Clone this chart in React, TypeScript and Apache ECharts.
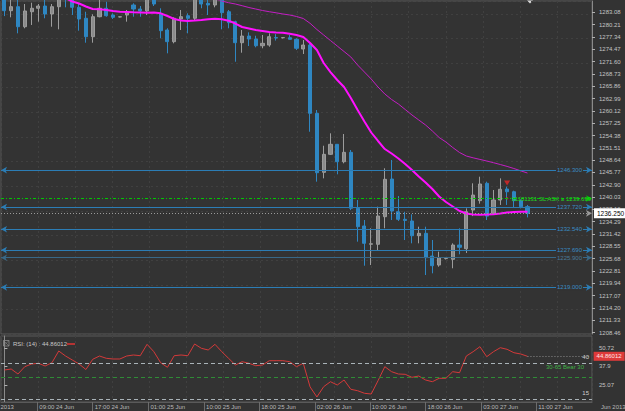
import React, { useEffect, useRef } from 'react';
import * as echarts from 'echarts';

const BG = '#333333';
const FONT = '"Liberation Sans", Arial, sans-serif';

// ---- data ----
const barSlots = 87;
const opens = [1286.5, 1283.46, 1284.39, 1279.73, 1283.22, 1284.02, 1284.55, 1282.69, 1284.39, 1287.5,
  1286.6, 1284.25, 1281.69, 1277.4, 1282.06, 1284.02, 1282.46, 1281.99, 1282.46, 1284.79,
  1283.85, 1283.39, 1287.0, 1282.85, 1278.96, 1276.24, 1281.52, 1282.29, 1281.69, 1287.0,
  1285.18, 1284.79, 1286.5, 1283.22, 1280.9, 1276.0, 1277.56, 1276.86, 1275.3, 1275.46,
  1277.2, 1277.15, 1277.17, 1276.8, 1274.53, 1275.46, 1259.55, 1245.8, 1250.0, 1252.33,
  1248.27, 1250.46, 1237.42, 1233.3, 1229.05, 1229.03, 1235.46, 1244.24, 1236.62, 1234.85,
  1234.46, 1231.03, 1231.59, 1226.3, 1224.2, 1225.7, 1225.53, 1228.86, 1228.0, 1237.02,
  1239.2, 1243.24, 1236.25, 1239.35, 1241.91, 1241.28, 1239.2, 1237.79];
const closes = [1283.46, 1284.39, 1279.73, 1283.39, 1284.02, 1284.55, 1282.69, 1284.39, 1287.5, 1286.6,
  1284.25, 1281.52, 1277.4, 1282.06, 1284.02, 1282.29, 1281.92, 1282.05, 1282.99, 1283.85,
  1283.39, 1286.3, 1285.02, 1278.8, 1276.24, 1281.69, 1282.06, 1281.69, 1286.5, 1285.02,
  1284.79, 1286.2, 1282.99, 1280.66, 1276.0, 1277.56, 1276.86, 1275.3, 1275.86, 1277.4,
  1277.1, 1277.2, 1276.8, 1274.7, 1275.46, 1259.55, 1245.71, 1249.99, 1252.33, 1248.27,
  1250.46, 1237.42, 1233.13, 1229.26, 1229.15, 1235.62, 1244.17, 1236.79, 1234.85, 1234.6,
  1231.03, 1231.59, 1225.91, 1224.04, 1225.91, 1225.75, 1228.86, 1228.33, 1236.62, 1240.5,
  1243.08, 1235.6, 1239.35, 1241.85, 1241.28, 1239.2, 1237.79, 1236.25];
const lows = [1282.2, 1281.92, 1278.19, 1279.36, 1280.13, 1280.9, 1281.69, 1279.73, 1279.12, 1284.25,
  1282.46, 1278.8, 1276.0, 1276.0, 1281.92, 1282.06, 1281.52, 1281.9, 1280.9, 1282.06,
  1282.06, 1282.46, 1284.55, 1277.03, 1273.53, 1275.86, 1278.96, 1278.19, 1281.13, 1284.02,
  1282.46, 1284.25, 1279.12, 1279.36, 1271.57, 1273.67, 1275.23, 1274.93, 1274.7, 1275.07,
  1276.5, 1277.0, 1276.75, 1274.3, 1273.37, 1255.26, 1243.62, 1244.4, 1249.84, 1245.34,
  1247.9, 1237.0, 1229.64, 1224.04, 1224.2, 1227.7, 1232.76, 1234.69, 1234.46, 1230.03,
  1229.26, 1229.26, 1221.87, 1222.27, 1223.81, 1225.5, 1223.44, 1226.7, 1227.0, 1235.6,
  1238.5, 1234.69, 1235.86, 1238.2, 1238.19, 1237.65, 1237.4, 1235.3];
const highs = [1287.0, 1286.3, 1286.2, 1285.02, 1285.32, 1285.02, 1286.1, 1285.02, 1289.0, 1288.5,
  1287.0, 1285.02, 1283.22, 1282.62, 1286.0, 1285.55, 1282.85, 1282.1, 1283.62, 1285.18,
  1284.55, 1287.0, 1288.0, 1284.02, 1279.36, 1281.92, 1283.62, 1282.85, 1287.5, 1288.0,
  1286.1, 1287.0, 1287.5, 1283.62, 1281.13, 1278.96, 1278.42, 1277.63, 1277.8, 1278.19,
  1278.0, 1277.3, 1277.8, 1277.03, 1276.63, 1275.86, 1260.32, 1252.0, 1254.89, 1252.4,
  1254.73, 1251.0, 1239.35, 1234.69, 1232.76, 1237.79, 1246.74, 1248.67, 1240.28, 1236.62,
  1236.02, 1233.13, 1233.13, 1230.03, 1227.31, 1225.9, 1229.26, 1232.76, 1237.4, 1243.24,
  1244.78, 1243.62, 1241.68, 1244.4, 1242.45, 1241.52, 1239.5, 1238.2];

const fastMA = [null, null, null, null, null, null, null, null, null, 1286.4,
  1285.6, 1285.13, 1284.44, 1283.85, 1283.78, 1283.62, 1283.39, 1283.22, 1283.15, 1283.08,
  1283.04, 1282.99, 1283.04, 1282.85, 1282.22, 1281.52, 1281.17, 1281.06, 1281.17, 1281.29,
  1281.45, 1281.59, 1281.45, 1281.13, 1280.47, 1279.66, 1279.31, 1278.96, 1278.73, 1278.5,
  1278.38, 1278.33, 1278.07, 1277.8, 1277.33, 1275.93, 1274.3, 1271.27, 1269.17, 1267.31,
  1265.68, 1263.1, 1260.32, 1257.66, 1255.08, 1253.1, 1251.23, 1250.18, 1249.02, 1247.74,
  1246.34, 1244.82, 1243.43, 1241.91, 1240.17, 1238.88, 1237.84, 1236.79, 1236.2, 1235.97,
  1235.93, 1235.97, 1236.02, 1236.2, 1236.44, 1236.55, 1236.6, 1236.62];

const slowMA = [null, null, null, null, null, null, null, null, null, null,
  null, null, null, null, null, null, null, null, null, null,
  null, null, null, null, null, null, null, null, null, null,
  null, 1286.15, 1285.72, 1285.32, 1285.02, 1284.62, 1284.2, 1283.85, 1283.5, 1283.22,
  1282.97, 1282.69, 1282.46, 1282.11, 1281.64, 1280.52, 1279.08, 1277.8, 1276.51, 1275.23,
  1273.95, 1272.67, 1270.8, 1269.17, 1267.54, 1265.68, 1264.05, 1262.77, 1261.72, 1260.44,
  1259.16, 1257.99, 1256.83, 1255.43, 1253.91, 1252.86, 1251.58, 1250.42, 1249.6, 1249.18,
  1248.81, 1248.44, 1248.04, 1247.62, 1247.18, 1246.69, 1246.15, 1245.64];

const rsi = [35.35, 36.04, 32.57, 37.64, 39.51, 40.0, 38.13, 40.42, 48.54, 45.07,
  42.29, 39.51, 35.69, 42.78, 45.07, 43.47, 42.99, 42.99, 45.07, 45.76,
  45.28, 53.19, 48.06, 40.42, 37.22, 45.28, 45.76, 45.28, 53.4, 50.42,
  49.24, 53.19, 48.06, 43.47, 38.82, 41.11, 40.0, 38.33, 38.82, 41.81,
  41.81, 41.81, 41.11, 37.64, 40.0, 23.6, 16.6, 23.75, 27.22, 24.93,
  28.4, 21.94, 20.97, 19.17, 18.68, 27.92, 37.64, 34.17, 32.57, 32.36,
  30.28, 31.18, 28.4, 27.22, 29.58, 29.58, 34.17, 33.47, 45.07, 48.06,
  51.53, 44.58, 48.06, 50.83, 49.72, 47.36, 46.46, 44.86012];

const priceTicks = [1208.46, 1211.33, 1214.20, 1217.07, 1219.94, 1222.81, 1225.68, 1228.55, 1231.42,
  1234.29, 1237.16, 1240.03, 1242.90, 1245.77, 1248.64, 1251.51, 1254.38, 1257.25, 1260.12,
  1262.99, 1265.86, 1268.73, 1271.60, 1274.47, 1277.34, 1280.21, 1283.08, 1285.95];
const rsiTicks = [25.07, 37.9, 50.72];

const timeLabels = ['09:00 24 Jun', '17:00 24 Jun', '01:00 25 Jun', '10:00 25 Jun', '18:00 25 Jun',
  '02:00 26 Jun', '10:00 26 Jun', '18:00 26 Jun', '03:00 27 Jun', '11:00 27 Jun'];
const timeLabelPos = [4.85, 13.0, 21.2, 29.4, 37.5, 45.7, 53.8, 62.0, 70.2, 78.3];

const levelValues = [1246.3, 1237.72, 1232.54, 1227.69, 1225.9, 1219.0];
const mutedLevel = 1225.9;
const currentPrice = 1236.25;
const orderPrice = 1239.699;
const orderText = '91181131 SL ASK ≥ 1239.699';
const tradeMarkIndex = 74;
const tradeArrowPrice = 1243.3;
const tradeDotPrice = 1239.75;

const rsiLevels = [
  { value: 40, label: '40' },
  { value: 30, label: '30-65 Bear 30' },
  { value: 15, label: '15' },
];
const rsiLast = 44.86012;
const rsiTitle = 'RSI: (14) : 44.86012';

const categories = Array.from({ length: barSlots }, (_, i) => String(i));

export default function App() {
  const ref = useRef<HTMLDivElement>(null);
  useEffect(() => {
    const chart = echarts.init(ref.current!, null, { renderer: 'svg' });
    const candles = opens.map((o, i) => [o, closes[i], lows[i], highs[i]]);
    const gridLine = { show: true, lineStyle: { color: '#404040', type: [2, 3], width: 1 } };
    const hiddenAxisParts = { axisLine: { show: false }, axisTick: { show: false }, axisLabel: { show: false } };

    const levelItems: any[] = levelValues.map((v) => ({
      yAxis: v,
      lineStyle: { color: v === mutedLevel ? '#386887' : '#2c7db5', width: 1, type: 'solid' },
      label: { formatter: v.toFixed(3), color: v === mutedLevel ? '#4a7a9a' : '#3a8cc4' },
    }));
    levelItems.push({
      yAxis: currentPrice,
      symbol: 'none',
      lineStyle: { color: '#9a9a9a', width: 1, type: [1, 2] },
      label: {
        position: 'end', distance: 2, formatter: currentPrice.toFixed(3), color: '#000000',
        backgroundColor: '#ffffff', padding: [2, 3, 1, 3], fontSize: 6.5,
      },
    });
    levelItems.push({
      yAxis: orderPrice,
      symbol: 'none',
      lineStyle: { color: '#00c800', width: 1, type: [3, 2, 1, 2] },
      label: {
        position: 'insideEnd', distance: 1, formatter: orderText, color: '#22d822',
        backgroundColor: 'transparent', padding: 0,
      },
    });

    const rsiItems: any[] = rsiLevels.map((l) => ({
      yAxis: l.value,
      lineStyle: { color: l.value === 30 ? '#2f8c36' : '#a9b3b8', width: 1, type: [4, 3] },
      label: {
        position: 'insideEndTop', distance: l.value === 30 ? 8 : 3, formatter: l.label,
        color: l.value === 30 ? '#3fb046' : '#d0d0d0',
      },
    }));
    rsiItems.push([
      {
        coord: [77, rsiLast],
        lineStyle: { color: '#8c8c8c', width: 1, type: [1, 2] },
        label: {
          position: 'end', distance: 5, formatter: String(rsiLast), color: '#ffe6e6',
          backgroundColor: '#dd3a3a', padding: [2, 3, 1, 3], fontSize: 6,
        },
      },
      { coord: [86, rsiLast] },
    ]);

    const option: any = {
      animation: false,
      backgroundColor: BG,
      textStyle: { fontFamily: FONT },
      grid: [
        { left: 1, top: 1, width: 591, height: 333, show: true, borderColor: '#5a5a5a', borderWidth: 1, containLabel: false },
        { left: 1, top: 336, width: 591, height: 66, show: true, borderColor: '#5a5a5a', borderWidth: 1, containLabel: false },
      ],
      xAxis: [
        { type: 'category', gridIndex: 0, data: categories, boundaryGap: true, show: false },
        { type: 'category', gridIndex: 1, data: categories, boundaryGap: true, show: false },
        {
          type: 'value', gridIndex: 1, position: 'bottom', min: -0.5, max: barSlots - 0.5,
          axisLine: { show: true, lineStyle: { color: '#5a5a5a' } },
          axisTick: { show: true, customValues: timeLabelPos, length: 9, lineStyle: { color: '#6c6c6c' } },
          axisLabel: {
            show: true, customValues: timeLabelPos, align: 'left', margin: 2, padding: [0, 0, 0, 2],
            color: '#b8b8b8', fontSize: 6, fontFamily: FONT,
            formatter: (v: number) => {
              const i = timeLabelPos.findIndex((p) => Math.abs(p - v) < 1e-6);
              return i >= 0 ? timeLabels[i] : '';
            },
          },
          splitLine: { show: false },
        },
        { type: 'value', gridIndex: 0, min: 0.506, max: 16.457, interval: 1, ...hiddenAxisParts, splitLine: gridLine },
        { type: 'value', gridIndex: 1, min: 0.506, max: 16.457, interval: 1, ...hiddenAxisParts, splitLine: gridLine },
      ],
      yAxis: [
        {
          type: 'value', gridIndex: 0, position: 'right', min: 1208.13, max: 1285.72, scale: true,
          axisLine: { show: true, lineStyle: { color: '#8a8a8a' } },
          axisTick: { show: true, customValues: priceTicks, length: 3, lineStyle: { color: '#b0b0b0' } },
          axisLabel: {
            show: true, customValues: priceTicks, margin: 7, color: '#c4c4c4', fontSize: 6, fontFamily: FONT,
            formatter: (v: number) => v.toFixed(2),
          },
          splitLine: { show: false },
        },
        { type: 'value', gridIndex: 0, position: 'right', min: -0.5575, max: 12.96, interval: 1, ...hiddenAxisParts, splitLine: gridLine },
        {
          type: 'value', gridIndex: 1, position: 'right', min: 13.125, max: 58.96, scale: true,
          axisLine: { show: true, lineStyle: { color: '#8a8a8a' } },
          axisTick: { show: true, customValues: rsiTicks, length: 3, lineStyle: { color: '#b0b0b0' } },
          axisLabel: {
            show: true, customValues: rsiTicks, margin: 7, color: '#c4c4c4', fontSize: 6, fontFamily: FONT,
            formatter: (v: number) => String(v),
          },
          splitLine: { show: false },
        },
      ],
      series: [
        {
          type: 'candlestick', xAxisIndex: 0, yAxisIndex: 0, data: candles, barWidth: 3.6, clip: true,
          itemStyle: { color: '#8b8b8b', color0: '#2f87c2', borderColor: '#9c9c9c', borderColor0: '#2f87c2', borderWidth: 1 },
          markLine: {
            silent: true, animation: false,
            symbol: ['arrow', 'arrow'], symbolSize: [5, 6],
            label: {
              position: 'insideEnd', distance: 9, fontSize: 6, fontFamily: FONT,
              backgroundColor: BG, padding: [0, 1],
            },
            data: levelItems,
          },
        },
        {
          type: 'line', xAxisIndex: 0, yAxisIndex: 0, data: slowMA, symbol: 'none', clip: true,
          lineStyle: { color: '#c41ec4', width: 1 }, z: 3,
        },
        {
          type: 'line', xAxisIndex: 0, yAxisIndex: 0, data: fastMA, symbol: 'none', clip: true,
          lineStyle: { color: '#ff10ff', width: 2 }, z: 3,
        },
        {
          type: 'scatter', xAxisIndex: 0, yAxisIndex: 0, z: 4,
          itemStyle: { color: '#e52525' },
          data: [
            { value: [tradeMarkIndex, tradeArrowPrice], symbol: 'triangle', symbolRotate: 180, symbolSize: [6, 5] },
            { value: [tradeMarkIndex, tradeDotPrice], symbol: 'circle', symbolSize: 2.5 },
          ],
        },
        {
          type: 'line', xAxisIndex: 1, yAxisIndex: 2, data: rsi, symbol: 'none',
          lineStyle: { color: '#d43a3a', width: 1 },
          markLine: {
            silent: true, animation: false, symbol: 'none',
            label: { fontSize: 6, fontFamily: FONT },
            data: rsiItems,
          },
        },
      ],
      graphic: [
        { type: 'rect', silent: true, shape: { x: 3.5, y: 340.5, width: 5.5, height: 5.5 }, style: { fill: 'none', stroke: '#8c8c8c', lineWidth: 0.8 } },
        { type: 'line', silent: true, shape: { x1: 3.5, y1: 340.5, x2: 9, y2: 346 }, style: { stroke: '#8c8c8c', lineWidth: 0.6 } },
        { type: 'line', silent: true, shape: { x1: 9, y1: 340.5, x2: 3.5, y2: 346 }, style: { stroke: '#8c8c8c', lineWidth: 0.6 } },
        { type: 'text', silent: true, x: 13, y: 344, style: { text: rsiTitle, fill: '#c8c8c8', fontSize: 6, fontFamily: FONT, verticalAlign: 'middle', align: 'left' } },
        { type: 'line', silent: true, shape: { x1: 67, y1: 344, x2: 75, y2: 344 }, style: { stroke: '#e03535', lineWidth: 1.5 } },
        { type: 'text', silent: true, x: 0.5, y: 407, style: { text: '2013', fill: '#b8b8b8', fontSize: 6, fontFamily: FONT, verticalAlign: 'middle', align: 'left' } },
        { type: 'text', silent: true, x: 601, y: 407, style: { text: 'Jun 2013', fill: '#b8b8b8', fontSize: 6, fontFamily: FONT, verticalAlign: 'middle', align: 'left' } },
        { type: 'polygon', silent: true, shape: { points: [[527, 0.5], [533, 0.5], [530, 3.5]] }, style: { fill: '#d8d8d8' } },
      ],
    };
    chart.setOption(option);
    return () => chart.dispose();
  }, []);
  return <div ref={ref} style={{ position: 'fixed', left: 0, top: 0, width: 625, height: 411 }} />;
}
